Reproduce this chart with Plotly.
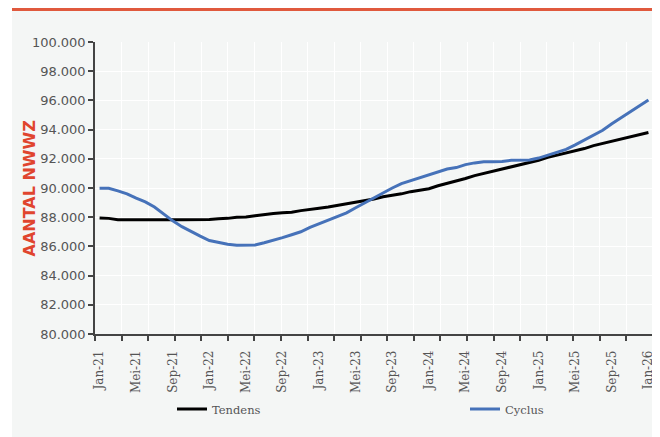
import plotly.graph_objects as go

# Maanden Jan-21 t/m Jan-26 (61 punten)
maanden = ["Jan", "Feb", "Mrt", "Apr", "Mei", "Jun", "Jul", "Aug", "Sep", "Okt", "Nov", "Dec"]
labels = [f"{maanden[i % 12]}-{21 + i // 12}" for i in range(61)]

tendens = [87950, 87920, 87830, 87820, 87820, 87820, 87820, 87820, 87820, 87820,
           87820, 87830, 87840, 87900, 87920, 88000, 88020, 88100, 88150, 88250,
           88310, 88340, 88450, 88560, 88620, 88700, 88800, 88900, 89000, 89100,
           89250, 89400, 89480, 89600, 89750, 89860, 89950, 90150, 90300, 90500,
           90650, 90850, 91000, 91150, 91250, 91400, 91550, 91750, 91900, 92100,
           92250, 92350, 92500, 92700, 92900, 93050, 93200, 93350, 93450, 93650,
           93800]

cyclus = [89980, 89980, 89800, 89600, 89300, 89050, 88700, 88200, 87750, 87350,
          87000, 86700, 86400, 86250, 86150, 86080, 86080, 86100, 86250, 86400,
          86600, 86800, 87000, 87300, 87550, 87800, 88000, 88300, 88650, 89000,
          89300, 89650, 90000, 90300, 90500, 90700, 90900, 91150, 91300, 91400,
          91600, 91720, 91800, 91800, 91820, 91900, 91900, 91920, 92050, 92250,
          92450, 92650, 92950, 93300, 93600, 93950, 94400, 94800, 95200, 95600,
          96020]

x = list(range(len(labels)))
label_idx = list(range(0, 61, 4))

fig = go.Figure()
fig.add_trace(go.Scatter(x=x, y=tendens, name="Tendens", mode="lines",
                         line=dict(color="#000000", width=3), legend="legend"))
fig.add_trace(go.Scatter(x=x, y=cyclus, name="Cyclus", mode="lines",
                         line=dict(color="#4672b9", width=3), legend="legend2"))

# de pagina heeft 8px marge, dus figuur is 652x429 en alles schuift 8px op
OFF = 8
W, H = 652, 429
L, R, T, B = 87, 7, 34, 103
pw, ph = W - L - R, H - T - B


def px_x(p):
    return (p - OFF - L) / pw


def px_y(p):
    return (H - B - (p - OFF)) / ph


bg = "#f4f6f5"
legfont = dict(family="DejaVu Serif", size=11.5, color="#555555")

fig.update_layout(
    width=W, height=H,
    margin=dict(l=L, r=R, t=T, b=B, autoexpand=False),
    paper_bgcolor="white",
    plot_bgcolor=bg,
    separators=",.",
    showlegend=True,
    legend=dict(xref="container", yref="container",
                x=(172 - OFF) / W, y=1 - (409 - OFF) / H,
                xanchor="left", yanchor="middle",
                bgcolor="rgba(0,0,0,0)", font=legfont),
    legend2=dict(xref="container", yref="container",
                 x=(465 - OFF) / W, y=1 - (409 - OFF) / H,
                 xanchor="left", yanchor="middle",
                 bgcolor="rgba(0,0,0,0)", font=legfont),
    shapes=[
        dict(type="rect", xref="paper", yref="paper", layer="below",
             x0=px_x(12), x1=px_x(655), y0=px_y(440), y1=px_y(11),
             fillcolor=bg, line=dict(width=0)),
        dict(type="line", xref="paper", yref="paper",
             x0=px_x(12), x1=px_x(655), y0=px_y(9.5), y1=px_y(9.5),
             line=dict(color="#e0593d", width=3)),
    ],
    annotations=[
        dict(text="<b>AANTAL NWWZ</b>", xref="paper", yref="paper",
             x=px_x(28.5), y=px_y(189), textangle=-90, showarrow=False,
             xanchor="center", yanchor="middle",
             font=dict(family="DejaVu Sans", size=16, color="#e0452e")),
    ],
)

fig.update_xaxes(
    range=[-0.5, 60.5],
    tickmode="array", tickvals=label_idx, ticktext=[labels[i] for i in label_idx],
    tickangle=-90, ticks="", ticklabelstandoff=10,
    tickfont=dict(family="DejaVu Serif", size=12, color="#555555"),
    showgrid=False, zeroline=False,
    showline=True, linecolor="#444444", linewidth=1.5,
    minor=dict(tickmode="array",
               tickvals=[-0.5 + k * 61 / 21 for k in range(22)],
               ticks="outside", ticklen=5, tickcolor="#444444", tickwidth=1.5,
               showgrid=True, gridcolor="white", gridwidth=1),
)

fig.update_yaxes(
    range=[80000, 100000], dtick=2000, tickformat=",d",
    ticks="outside", ticklen=5, tickcolor="#444444", tickwidth=1.5,
    tickfont=dict(family="DejaVu Sans", size=13, color="#555555"),
    showgrid=True, gridcolor="white", gridwidth=1, zeroline=False,
    showline=True, linecolor="#444444", linewidth=1.5,
)

fig.write_html("out.html")
